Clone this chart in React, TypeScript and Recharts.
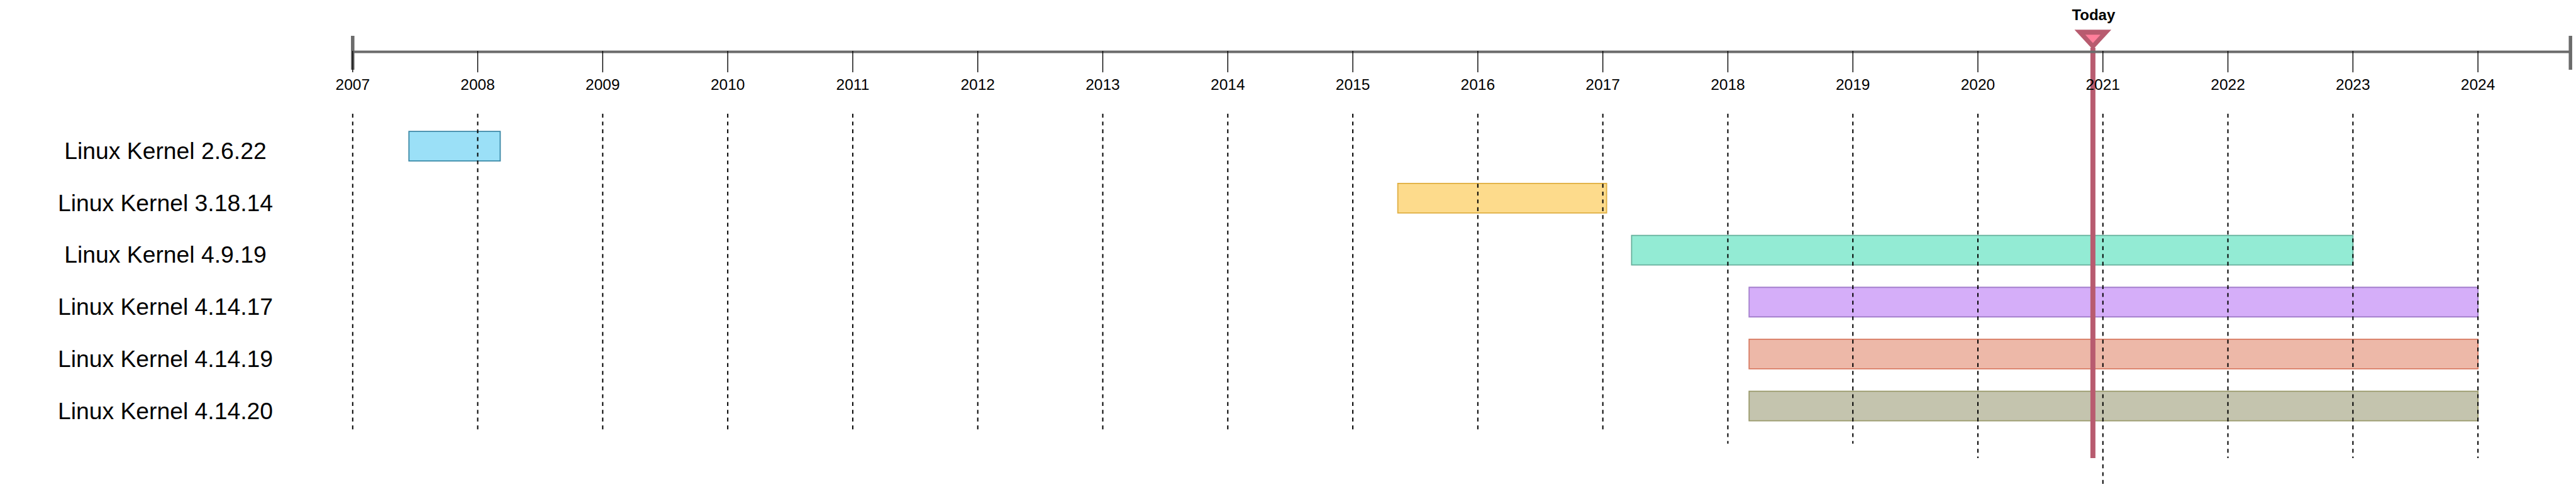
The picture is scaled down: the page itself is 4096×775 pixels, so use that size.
import React from "react"
import { Bar, BarChart, Cell, ReferenceLine, XAxis, YAxis } from "recharts"

// timeline data
const YEARS = [2007, 2008, 2009, 2010, 2011, 2012, 2013, 2014, 2015, 2016, 2017, 2018, 2019, 2020, 2021, 2022, 2023, 2024]
const AXIS_START = 2007
const AXIS_END = 2024.74
const TODAY = 2020.92

const VERSIONS = [
  "Linux Kernel 2.6.22",
  "Linux Kernel 3.18.14",
  "Linux Kernel 4.9.19",
  "Linux Kernel 4.14.17",
  "Linux Kernel 4.14.19",
  "Linux Kernel 4.14.20",
]
const STARTS = [2007.45, 2015.36, 2017.23, 2018.17, 2018.17, 2018.17]
const ENDS = [2008.18, 2017.03, 2023.0, 2024.0, 2024.0, 2024.0]

const FILLS = ["#9be0f7", "#fddb8c", "#93ebd4", "#d5aef9", "#edb8a8", "#c4c4ae"]
const STROKES = ["#3b88a6", "#dfae40", "#67b09c", "#a47fcd", "#d87b63", "#9a9a6c"]

const FONT = "'Liberation Sans', Arial, Helvetica, sans-serif"
const AXIS_GRAY = "#6b6b6b"
const TODAY_DARK = "#b85b6f"
const TODAY_LIGHT = "#ff7f9b"

const rows = VERSIONS.map((name, i) => ({ name, range: [STARTS[i], ENDS[i]] }))

// the dashed guides in the original are not all the same length
function gridBottom(year: number) {
  if (year <= 2017) return 686
  if (year <= 2019) return 706
  if (year === 2021) return 771
  return 729
}

function YearTick(props: any) {
  const { x, y, payload } = props
  return (
    <g>
      <line x1={x} x2={x} y1={y - 1.5} y2={y + 32.5} stroke="#000" strokeWidth={1.4} />
      <text x={x} y={y + 60.7} textAnchor="middle" fontSize={24.5} fontFamily={FONT} fill="#000">
        {payload.value}
      </text>
    </g>
  )
}

function NameTick(props: any) {
  const { y, payload } = props
  return (
    <text x={263} y={y + 20.5} textAnchor="middle" fontSize={37.3} fontFamily={FONT} fill="#000">
      {payload.value}
    </text>
  )
}

function EndCap(props: any) {
  return <line x1={props.x1} x2={props.x2} y1={57} y2={111} stroke={AXIS_GRAY} strokeWidth={5.5} />
}

function TodayMarker(props: any) {
  const cx = props.x1
  return (
    <g>
      <line x1={cx} x2={cx} y1={76} y2={729} stroke={TODAY_DARK} strokeWidth={8} />
      <polygon points={`${cx - 29.3},47.3 ${cx + 29.3},47.3 ${cx},79`} fill={TODAY_DARK} />
      <polygon points={`${cx - 12},55.3 ${cx + 12},55.3 ${cx},68.6`} fill={TODAY_LIGHT} />
      <text x={cx + 1} y={32} textAnchor="middle" fontSize={24} fontWeight="bold" fontFamily={FONT} fill="#000">
        Today
      </text>
    </g>
  )
}

export default function App() {
  return (
    <div style={{ position: "absolute", left: 0, top: 0, width: 4096, height: 775, background: "#fff" }}>
      <BarChart
        layout="vertical"
        width={4096}
        height={775}
        data={rows}
        margin={{ top: 0, right: 8.8, bottom: 0, left: 0 }}
        barSize={47}
      >
        <XAxis
          type="number"
          orientation="top"
          domain={[AXIS_START, AXIS_END]}
          ticks={YEARS}
          interval={0}
          allowDataOverflow
          height={82.6}
          tickSize={0}
          tickMargin={0}
          tickLine={false}
          axisLine={{ stroke: AXIS_GRAY, strokeWidth: 4 }}
          tick={YearTick}
        />
        <YAxis
          type="category"
          dataKey="name"
          width={560.8}
          interval={0}
          axisLine={false}
          tickLine={false}
          tick={NameTick}
          padding={{ top: 108.5, bottom: 87.6 }}
        />
        <Bar dataKey="range" isAnimationActive={false} strokeWidth={1.8}>
          {rows.map((r, i) => (
            <Cell key={r.name} fill={FILLS[i]} stroke={STROKES[i]} />
          ))}
        </Bar>
        {YEARS.map((yr) => (
          <ReferenceLine
            key={yr}
            x={yr}
            shape={(p: any) => (
              <line
                x1={p.x1}
                x2={p.x2}
                y1={181}
                y2={gridBottom(yr)}
                stroke="#000"
                strokeWidth={2}
                strokeDasharray="6.2 6.2"
              />
            )}
          />
        ))}
        <ReferenceLine x={AXIS_START} shape={EndCap} />
        <ReferenceLine x={AXIS_END} shape={EndCap} />
        <ReferenceLine x={TODAY} shape={TodayMarker} />
      </BarChart>
    </div>
  )
}
